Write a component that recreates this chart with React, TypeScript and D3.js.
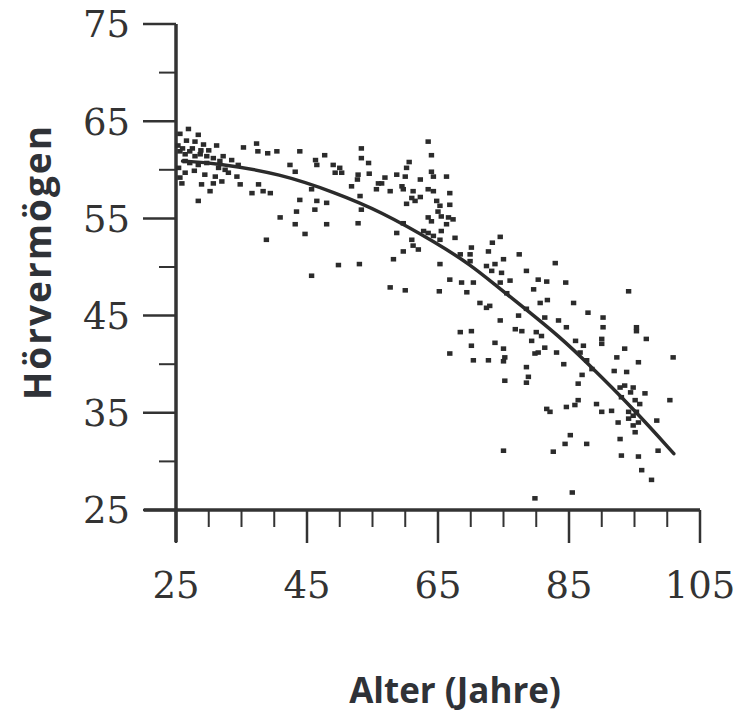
import React, { useEffect, useRef } from 'react';
import * as d3 from 'd3';

const WIDTH = 736;
const HEIGHT = 713;

// [Alter, Hörvermögen] pairs
const pointsYoung: [number, number][] = [
  [26.9, 64.2], [28.4, 63.6], [25.6, 63.7], [26.6, 63.0], [27.9, 62.9], [29.2, 62.6], [31.2, 62.5],
  [35.3, 62.3], [37.3, 62.7], [37.5, 61.9], [39.0, 61.7], [40.4, 61.9], [25.6, 61.9], [26.4, 61.6],
  [27.1, 61.9], [27.9, 61.4], [28.7, 61.6], [29.7, 61.4], [26.4, 60.9], [27.1, 60.7], [28.4, 60.5],
  [29.7, 60.7], [30.7, 61.2], [31.7, 60.9], [32.2, 61.4], [31.5, 60.2], [32.5, 60.0], [26.4, 59.7],
  [29.4, 59.5], [31.0, 59.3], [34.3, 59.3], [25.9, 58.6], [25.6, 59.2], [28.9, 58.5], [30.7, 58.6],
  [32.0, 58.8], [30.2, 57.8], [34.8, 58.5], [36.6, 57.6], [37.6, 58.5], [38.3, 57.8], [39.4, 57.6],
  [28.4, 56.8], [40.9, 55.1], [25.3, 62.5], [26.0, 62.2], [27.5, 62.2], [28.8, 62.0], [30.0, 62.0],
  [33.5, 61.0], [34.5, 60.5], [25.4, 60.2], [27.8, 59.9], [33.0, 59.7],
];

const pointsMiddle: [number, number][] = [
  [43.9, 61.9], [47.7, 61.5], [46.5, 60.5], [42.4, 60.5], [43.2, 59.8], [49.0, 60.5], [50.0, 60.2],
  [50.3, 59.7], [49.3, 59.7], [51.8, 58.3], [45.7, 58.0], [43.9, 56.9], [46.5, 56.8], [48.0, 56.6],
  [46.2, 55.9], [43.4, 55.7], [43.2, 54.4], [48.0, 54.4], [52.8, 54.5], [44.7, 53.4], [38.8, 52.8],
  [49.8, 50.2], [53.0, 50.3], [45.7, 49.1], [46.3, 61.0], [53.3, 62.2], [53.3, 61.2], [54.4, 60.7],
  [52.8, 59.5], [54.5, 59.6], [52.7, 59.0], [55.9, 58.6], [55.6, 58.0], [53.1, 57.3], [53.3, 55.9],
  [63.5, 62.9], [64.0, 61.5], [60.6, 60.8], [60.2, 60.2], [58.7, 59.5], [60.0, 59.3], [56.9, 59.2],
  [56.4, 58.6], [57.7, 57.8], [59.5, 58.3], [59.7, 58.0], [62.3, 59.0], [64.0, 59.8], [64.3, 59.3],
  [66.3, 59.3], [63.5, 58.0], [64.3, 57.8], [61.2, 57.8], [61.0, 57.1], [62.3, 57.2], [60.2, 56.5],
  [61.5, 56.8], [66.8, 57.6], [64.8, 56.8], [65.3, 56.3], [66.8, 56.4], [65.0, 55.7], [65.5, 55.2],
  [66.6, 55.1], [67.3, 54.9], [63.5, 55.1], [64.0, 54.7], [66.3, 54.4], [65.5, 53.7], [62.8, 53.7],
  [63.5, 53.5], [64.3, 53.2], [65.3, 52.8], [67.6, 53.0], [59.7, 54.5], [58.7, 53.5], [61.0, 52.8],
  [61.2, 52.2], [62.0, 51.8], [59.7, 51.6], [68.4, 51.3], [70.1, 52.0], [69.9, 51.3], [58.2, 50.8],
  [57.7, 47.9], [60.0, 47.6], [65.2, 47.5], [65.3, 50.3], [66.8, 48.7], [68.6, 48.4], [69.4, 47.4],
  [71.4, 46.3], [72.4, 45.8], [68.4, 43.3], [70.1, 43.4], [66.8, 41.1], [70.1, 41.9],
];

const pointsOld: [number, number][] = [
  [74.5, 53.1], [73.3, 52.5], [72.7, 51.6], [77.4, 51.3], [75.0, 50.8], [73.7, 50.3], [72.4, 50.1],
  [73.2, 49.6], [74.7, 49.4], [69.9, 50.6], [82.9, 50.4], [78.5, 49.6], [74.5, 48.4], [76.0, 48.6],
  [80.3, 48.7], [81.6, 48.5], [84.5, 48.4], [72.9, 46.0], [79.6, 47.7], [75.5, 47.3], [80.6, 46.3],
  [81.7, 46.6], [78.5, 45.7], [85.7, 46.3], [77.3, 45.0], [81.3, 44.8], [74.5, 44.5], [83.4, 44.5],
  [84.6, 43.8], [76.8, 43.6], [77.8, 43.4], [80.0, 43.3], [80.8, 42.9], [73.7, 42.2], [79.3, 42.4],
  [86.0, 42.4], [75.0, 41.6], [87.2, 41.9], [86.7, 41.2], [87.7, 40.4], [88.5, 39.5],
  [70.4, 48.4], [70.4, 40.4], [72.7, 40.4], [75.2, 40.7], [75.0, 40.3], [75.2, 38.3], [78.5, 39.7],
  [78.8, 38.7], [78.5, 38.1], [79.8, 41.1], [80.3, 41.2], [81.3, 41.7], [83.1, 41.2], [84.2, 40.0],
  [81.6, 35.4], [82.1, 35.1], [84.6, 35.6], [85.9, 35.8], [86.4, 36.3], [85.2, 32.7], [84.4, 31.8],
  [87.7, 31.8], [82.6, 31.0], [75.0, 31.1], [79.8, 26.2], [85.5, 26.8], [89.2, 35.9], [90.0, 35.1],
  [91.5, 35.2], [87.0, 38.9], [86.4, 38.0], [91.9, 39.3], [93.8, 39.2], [92.3, 40.7], [93.5, 41.6],
  [95.6, 40.2], [100.9, 40.7], [95.3, 43.4], [95.3, 43.8], [96.8, 42.6], [94.1, 47.5], [90.2, 44.8],
  [90.2, 43.8], [90.0, 42.6], [90.0, 42.1], [87.9, 45.3], [92.8, 37.6], [93.5, 37.8], [94.8, 37.6],
  [94.4, 37.1], [93.0, 36.6], [95.1, 36.3], [95.8, 35.9], [94.1, 35.1], [95.3, 35.1], [96.6, 37.0],
  [98.4, 34.2], [100.4, 36.3], [92.5, 34.0], [94.1, 34.4], [94.8, 33.7], [95.1, 33.0], [94.8, 34.7],
  [92.8, 32.3], [95.6, 34.0], [93.0, 30.6], [95.6, 30.5], [96.1, 29.1], [97.6, 28.1], [98.6, 31.1],
];

// fitted curve
const curveAges = [26, 31, 41, 49.5, 56, 65, 70, 73.5, 78.5, 83.6, 87.7, 95, 101];
const curveValues = [60.9, 60.7, 59.6, 57.6, 55.8, 52.4, 50.2, 48.3, 45.6, 42.8, 40.2, 35.3, 30.8];

const xMajorTicks = [25, 45, 65, 85, 105];
const xMinorTicks = [30, 35, 40, 50, 55, 60, 70, 75, 80, 90, 95, 100];
const yMajorTicks = [25, 35, 45, 55, 65, 75];
const yMinorTicks = [30, 40, 50, 60, 70];

const INK = '#333';

const HearingChart = () => {
  const ref = useRef<SVGSVGElement | null>(null);

  useEffect(() => {
    const svg = d3.select(ref.current);
    svg.selectAll('*').remove();

    const x = d3.scaleLinear().domain([25, 105]).range([176, 700]);
    const y = d3.scaleLinear().domain([25, 75]).range([510, 24]);

    svg.append('rect').attr('width', WIDTH).attr('height', HEIGHT).attr('fill', '#fff');

    const axes = svg.append('g').attr('stroke', INK);

    // main axis lines
    axes.append('line')
      .attr('x1', x(25)).attr('x2', x(25))
      .attr('y1', y(75)).attr('y2', y(25) + 32)
      .attr('stroke-width', 3.5);
    axes.append('line')
      .attr('x1', x(25) - 32).attr('x2', x(105))
      .attr('y1', y(25)).attr('y2', y(25))
      .attr('stroke-width', 3.5);

    // y ticks
    axes.selectAll('.ymaj').data(yMajorTicks).join('line')
      .attr('x1', x(25) - 33).attr('x2', x(25))
      .attr('y1', d => y(d)).attr('y2', d => y(d))
      .attr('stroke-width', 2.5);
    axes.selectAll('.ymin').data(yMinorTicks).join('line')
      .attr('x1', x(25) - 17).attr('x2', x(25))
      .attr('y1', d => y(d)).attr('y2', d => y(d))
      .attr('stroke-width', 2);

    // x ticks
    const xt = svg.append('g').attr('stroke', INK);
    xt.selectAll('line.maj').data(xMajorTicks).join('line')
      .attr('x1', d => x(d)).attr('x2', d => x(d))
      .attr('y1', y(25)).attr('y2', y(25) + 33)
      .attr('stroke-width', 2.5);
    svg.append('g').attr('stroke', INK)
      .selectAll('line').data(xMinorTicks).join('line')
      .attr('x1', d => x(d)).attr('x2', d => x(d))
      .attr('y1', y(25)).attr('y2', y(25) + 17)
      .attr('stroke-width', 2);

    // tick labels
    svg.append('g')
      .attr('font-family', '"DejaVu Serif", serif')
      .attr('font-size', 37)
      .attr('fill', INK)
      .attr('text-anchor', 'end')
      .selectAll('text').data(yMajorTicks).join('text')
      .attr('x', 130)
      .attr('y', d => y(d))
      .attr('dy', '0.36em')
      .text(d => d);

    svg.append('g')
      .attr('font-family', '"DejaVu Serif", serif')
      .attr('font-size', 37)
      .attr('fill', INK)
      .attr('text-anchor', 'middle')
      .selectAll('text').data(xMajorTicks).join('text')
      .attr('x', d => x(d))
      .attr('y', 598)
      .text(d => d);

    // scatter
    const allPoints = [...pointsYoung, ...pointsMiddle, ...pointsOld];
    svg.append('g')
      .attr('fill', '#2b2b2b')
      .selectAll('rect').data(allPoints).join('rect')
      .attr('x', d => x(d[0]) - 2.7)
      .attr('y', d => y(d[1]) - 2.3)
      .attr('width', 5.4)
      .attr('height', 4.6);

    // curve
    const line = d3.line<number>()
      .x(d => x(curveAges[d]))
      .y(d => y(curveValues[d]))
      .curve(d3.curveBasis);
    svg.append('path')
      .datum(d3.range(curveAges.length))
      .attr('d', line)
      .attr('fill', 'none')
      .attr('stroke', '#2b2b2b')
      .attr('stroke-width', 3.5)
      .attr('stroke-linecap', 'round');

    // axis titles
    svg.append('text')
      .attr('transform', 'translate(51,262) rotate(-90)')
      .attr('text-anchor', 'middle')
      .attr('font-family', '"Open Sans", sans-serif')
      .attr('font-weight', 'bold')
      .attr('font-size', 37)
      .attr('letter-spacing', 2)
      .attr('fill', '#2f3237')
      .text('Hörvermögen');

    svg.append('text')
      .attr('x', 455)
      .attr('y', 703)
      .attr('text-anchor', 'middle')
      .attr('font-family', '"Open Sans", sans-serif')
      .attr('font-weight', 'bold')
      .attr('font-size', 35)
      .attr('fill', '#2f3237')
      .text('Alter (Jahre)');
  }, []);

  return (
    <svg
      ref={ref}
      width={WIDTH}
      height={HEIGHT}
      style={{ position: 'absolute', left: 0, top: 0, display: 'block' }}
    />
  );
};

export default function App() {
  return <HearingChart />;
}
